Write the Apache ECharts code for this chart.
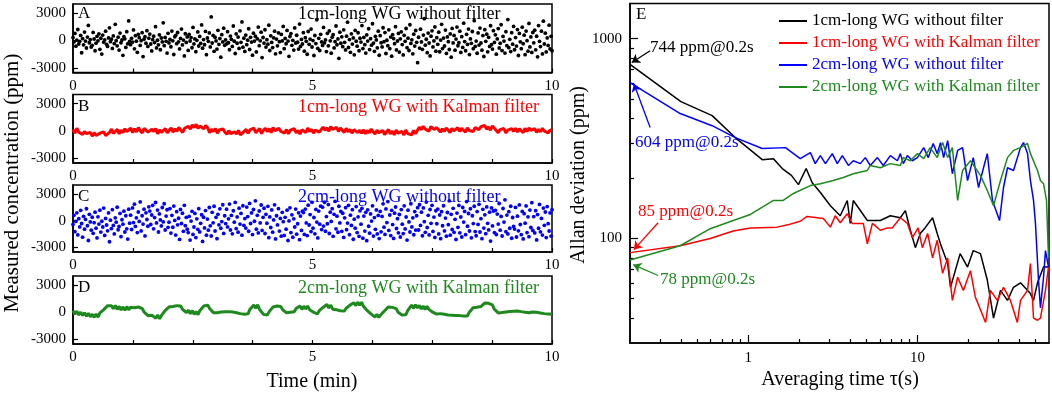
<!DOCTYPE html>
<html>
<head>
<meta charset="utf-8">
<script src="https://cdn.jsdelivr.net/npm/echarts@6/dist/echarts.min.js"></script>
<style>
html, body { margin: 0; padding: 0; background: #fff; }
#chart { width: 1052px; height: 394px; }
</style>
</head>
<body>
<div id="chart"></div>
<script>
// ---- panel A-D: measured concentration (ppm), uniformly sampled over 10 min
const conc1cmRaw = [
  320,-150,780,-620,40,1210,-380,-90,560,-1340,210,-470,930,-60,-820,380,1650,-240,110,-710,
  -530,890,170,-1120,-290,460,-30,720,-960,250,-1480,600,-180,80,1030,-410,-640,290,1390,-120,
  140,-860,510,-330,1780,-20,-580,370,-1050,820,-240,60,-1620,430,190,-750,970,-360,2150,-90,
  -450,240,-170,1160,-910,530,-70,-1290,680,310,-540,-20,860,-1760,150,420,-300,1080,-650,260,
  710,-380,-1140,90,480,-220,1520,-810,30,-470,620,-1010,280,-150,1940,-560,340,-90,-1370,790,
  -260,120,-680,1040,-30,-1530,410,570,-340,880,-140,-920,230,1260,-480,50,-1690,740,-210,390,
  -1080,660,-50,320,-790,1430,-370,180,-1220,20,940,-600,450,-310,1710,-840,110,-460,1000,-1550,
  280,-90,830,-700,2580,-270,560,-1180,360,-40,-930,1120,-410,210,-1820,640,-150,1350,-520,70,
  -360,970,-240,-1010,490,130,-640,1590,-80,-1420,720,-300,380,-860,1060,-200,2040,-730,260,-1190,
  600,-450,40,1290,-980,350,-170,-1600,810,-60,470,-1250,190,1470,-560,-30,920,-1870,330,-280,
  1180,-720,90,-400,1680,-1090,520,-210,-770,300,1020,-1460,160,-580,840,-120,-1320,670,-40,1540,
  -890,230,-350,1110,-60,-1730,440,760,-520,20,-1050,1380,-270,580,-190,-940,1800,-650,120,-380,
  860,-1170,310,-90,-1500,990,-420,160,1260,-710,-10,-1640,550,-330,2270,-860,240,-1090,680,-150,
  -540,1430,-260,70,-1210,790,-580,1050,-30,-1380,360,640,-810,-120,1590,-460,180,-1950,920,-300,
  410,-670,1170,-200,-1030,480,2010,-750,100,-1290,730,-390,290,-1560,1110,-80,-620,850,-1120,250,
  -170,1640,-880,340,-450,-1370,610,-60,1290,-990,200,-510,1840,-280,-1180,460,70,-800,1030,-1610,
  530,-240,-700,1400,-130,870,-1420,30,-560,1170,-890,380,-1710,640,210,-340,1520,-1030,-50,780,
  -1260,190,950,-440,-1580,570,-90,1320,-780,260,-1090,1730,-320,80,-1450,700,-610,1100,-200,-2420,
  360,-830,1240,-150,-960,600,2390,-510,140,-1330,820,-270,-1690,480,1060,-700,-40,1490,-1170,310,
  -420,910,-1230,50,1780,-880,270,-600,1150,-1410,390,-120,-980,720,-1820,1330,-260,560,-1060,160,
  1470,-570,-230,1020,-1300,420,-760,1900,-110,-1120,680,-430,1250,-1540,180,-310,990,-890,2170,-640,
  -60,-1390,830,-500,1360,-270,-1060,540,-1750,1190,-90,700,-1240,350,-650,1620,-450,-940,1080,-210,
  620,-1490,180,1310,-820,-300,1740,-1100,450,-60,-1370,970,-560,2290,-780,130,-1210,860,-400,1550,
  -1010,320,-610,1200,-1640,780,-140,-890,1460,-340,590,-1550,1040,-20,-1160,1870,-700,390,-1300,880,
  -250,1130,-1020,470,-1780,1640,-90,-660,1030,-1470,2120,-380,810,-1250,290,-540,1680,-920,460,-1120
];
const conc1cmKalman = [
  180,-240,310,-120,90,-380,-60,-290,-410,-150, -560,-180,-470,-620,-240,-380,-90,-510,-320,-150,
  220,-260,-40,190,-310,80,-180,250,-60,140, 330,-170,260,-90,380,10,-210,290,170,-120,
  -240,190,-60,280,-310,120,-150,40,260,-190, 60,350,-120,240,-40,390,110,-160,300,180,
  520,210,660,380,740,290,560,430,250,610, 340,-180,190,-60,280,-250,110,-90,230,-140,
  -360,40,-280,-470,-90,-320,60,-410,-200,-30, 190,-240,120,-90,310,-170,40,260,-280,90,
  310,-80,260,-170,370,40,-110,290,-30,180, -220,160,-300,110,-60,270,-190,50,-340,140,
  250,-160,320,-40,190,-230,110,290,-120,60, 430,90,350,-20,480,170,260,410,-40,330,
  220,-160,300,-80,180,-230,140,260,-150,70, -240,130,-310,60,-180,220,-90,-330,100,-200,
  -260,70,-380,-90,160,-300,-20,-420,120,-230, -350,-40,-430,110,-280,-130,-410,60,-300,-90,
  420,150,520,230,370,-10,480,290,160,400, 310,-120,240,-50,330,110,-170,280,20,-80,
  360,-40,290,120,-110,330,60,240,-70,380, 540,160,470,290,620,210,430,100,560,320,
  230,-180,150,-60,280,-210,90,-120,260,-30, 310,-100,240,30,-170,290,-40,330,80,-60,
  250,-150,180,-90,300,-20,140,-210,120,60
];
const conc2cmRaw = [
  -420,610,-1230,-80,880,-1590,230,-690,1160,-310,-1840,490,-950,150,1340,-560,-2210,720,-130,-1060,
  390,-1410,-220,960,-830,-1920,440,-370,1180,-1270,-60,-700,1420,-1640,260,-480,-1130,870,-2350,60,
  -880,1240,-520,-1480,330,-160,1510,-1010,-640,820,-1780,110,-380,1070,-1260,560,-910,-2050,1290,-270,
  620,-980,1430,-210,1850,-640,320,-1330,980,-80,2110,-1140,560,-370,1290,-1700,880,140,-620,1560,
  1080,-420,640,1720,-910,350,2040,-250,1190,-1260,760,90,-580,1480,-130,1900,-1040,520,1230,-740,
  -160,1360,-1380,610,-730,1640,40,-1610,1010,-460,280,-2090,1270,-310,840,-1190,1730,-550,370,-950,
  -1320,480,-2160,-40,1050,-1530,-700,820,-1880,210,-960,1350,-1250,-290,670,-2320,390,-810,1140,-1620,
  190,-1060,1480,-570,-1710,940,-230,1620,-1150,380,-2010,720,-460,1330,-840,-90,1790,-1420,560,-320,
  1290,-690,210,1860,-1040,590,-1470,1120,-160,2050,-880,430,-1280,1410,-370,820,-1620,1680,-510,240,
  -820,1530,460,-1180,1940,-310,870,-1550,1260,-60,2230,-940,610,-1360,1090,-240,1760,-1090,380,1400,
  -1430,720,-280,1610,-1900,430,-760,1210,-1280,90,1780,-2040,560,-470,1350,-1160,260,-1730,940,-110,
  -1640,380,-940,1180,-2210,-20,1450,-1320,660,-1850,210,-700,1310,-1500,-340,890,-2120,520,-1080,1060,
  920,-1530,1300,-240,-1660,1740,-480,690,-1210,2060,-830,360,-1470,1270,-150,-1920,1080,-390,1630,-990,
  1520,-600,2070,-1180,470,-340,1810,-1430,960,-80,1350,-1740,720,2160,-910,510,-1290,1620,-250,1040,
  -1190,840,-1870,330,1460,-1000,-260,1730,-1560,620,-520,1240,-2070,180,-830,1580,-1320,440,-1740,1110,
  -380,1390,-1950,520,-1160,940,-2230,1220,-620,-1390,760,-40,1670,-1720,350,-960,1210,-1480,590,-2000,
  1040,-1240,480,1890,-720,-1530,1320,-210,2140,-1090,640,-1660,1160,-430,-1980,850,1540,-870,230,-1350,
  700,-1820,1250,-380,-1440,1670,-920,420,-2160,1180,-130,-1260,1900,-690,330,-1570,1030,-1050,560,1460,
  -1040,1790,-520,960,-1680,1430,-110,-1300,2090,-760,610,-1590,1260,-290,1730,-1200,410,-1870,1120,-340,
  1300,-1480,640,-2010,1010,-560,1680,-1140,300,-1730,920,-440,2230,-1620,720,-980,1390,-1300,160,-2090,
  860,-740,1710,-1350,420,-1820,1480,-150,1040,-1560,2150,-620,810,-1150,1340,-1910,560,-320,1620,-1210,
  -1680,1020,-410,1840,-1260,230,-2010,1280,-820,660,-1450,1550,-290,-1030,960,-2280,1430,-580,1090,-1320,
  1160,-1540,750,-370,1930,-1060,480,-1710,1370,-150,2340,-1220,630,-1480,1010,-840,1620,-1960,360,-640,
  -930,1490,-1820,510,-1130,1770,-420,-1560,1040,-2040,790,-270,1660,-1330,440,-1790,1190,-760,2020,-1090,
  470,-1370,1130,-2150,690,-840,1820,-1240,260,-1600,1420,-510,980,-1880,1580,-330,-1150,870,-1720,1240
];
const conc2cmKalman = [
  180,-210,120,-300,10,-350,-60,-440,-120,-500, -220,-560,-190,-540,-60,-120,290,350,730,640,
  720,380,760,310,650,250,590,210,620,280, 560,450,490,510,580,430,410,10,-20,-380,
  -260,-320,-380,-660,-300,-720,-350,-290,200,240, 600,500,640,590,730,650,700,310,340,-20,
  230,-170,190,-240,70,-260,200,230,690,630, 790,410,410,-40,60,-50,30,20,130,50,
  180,70,150,20,50,-60,-20,-150,-80,-210, -110,-170,340,370,800,450,830,310,260,-230,
  -200,-310,70,120,590,580,690,610,630,270, 320,-50,80,0,70,50,420,360,690,320,
  670,360,700,270,360,10,80,-190,180,120, 530,490,850,470,800,340,400,270,310,160,
  240,130,440,410,790,680,1050,740,1120,770, 1110,650,630,180,190,-200,-160,-520,-230,-570,
  -270,-290,170,190,590,450,540,410,400,0, 50,-310,-180,-280,190,310,790,450,820,480,
  750,360,690,300,670,320,410,10,90,-200, -50,-150,-90,-220,-170,-290,-220,-320,-260,-350,
  -280,-370,-320,-420,-360,-410,0,40,490,450, 550,490,630,650,1010,930,990,850,810,340,
  370,-70,50,-20,70,40,170,90,200,120, 230,150,180,70,70,10,30,-50,80,30,
  90,10,0,-80,-40,-150,-70,-180,-110,-220
];
const timeLabels = [0, 5, 10];
const timeTicks = [0, 1.25, 2.5, 3.75, 5, 6.25, 7.5, 8.75, 10];
const concTicks = [-3000, 0, 3000];

// ---- panel E: Allan deviation (ppm) vs averaging time (s)
const tauBlack = [0.2,0.4,0.612,0.838,1.21,1.41,1.59,1.80,1.98,2.20,2.39,2.67,3.06,3.50,3.85,4.01,4.18,5.06,6.04,6.92,
  7.93,8.49,9.09,9.73,10.4,11.1,12.3,13.1,13.7,15.1,15.7,17.9,19.8,21.4,23.6,25.9,28.2,31.0,34.1,37.0,
  40.7,46.6,48.6,51.3,55.7,59.6];
const adevBlack = [744,484,412,320,248,251,224,207,186,224,190,170,146,130,155,119,155,123,123,130,
  127,138,110,90,106,113,127,106,94,75,57,84,72,87,84,62,40,55,49,57,
  60,53,49,60,72,72];
const tauRed = [0.2,0.396,0.596,0.815,1.03,1.48,1.77,2.03,2.23,2.78,3.06,3.27,3.50,3.85,4.12,4.48,4.79,5.06,5.42,6.04,
  6.64,7.11,7.93,8.73,9.34,10.1,10.7,11.5,12.3,13.1,14.1,15.1,16.1,17.3,18.7,20.6,22.0,23.6,25.3,27.0,
  29.7,32.3,35.5,39.0,40.7,44.8,46.6,48.6,51.3,53.4,57.2,59.6];
const adevRed = [85,92,100,109,113,114,118,122,129,126,114,130,120,133,119,119,119,94,119,110,
  113,113,127,119,101,113,90,106,80,98,67,80,49,64,55,69,51,44,38,55,
  49,57,49,38,49,55,75,40,39,40,55,72];
const tauBlue = [0.2,0.396,0.612,0.838,1.21,1.66,2.03,2.33,2.49,2.67,2.86,3.14,3.36,3.60,3.91,4.18,4.60,4.92,5.27,5.80,
  6.29,6.92,7.62,7.93,8.26,8.73,9.34,10.0,10.9,11.6,12.4,13.1,13.7,14.3,15.1,16.1,17.3,18.5,19.8,21.4,
  23.0,24.6,25.9,27.8,30.6,32.3,34.1,37.0,40.7,42.4,44.8,46.6,48.6,49.9,52.0,53.4,55.7,57.2,59.6];
const adevBlue = [603,422,367,320,282,285,251,269,237,260,237,266,237,260,232,245,237,254,232,254,
  232,260,245,266,237,260,245,254,285,254,299,266,302,254,309,211,276,285,195,254,
  180,226,266,155,123,180,226,219,285,302,266,195,155,119,62,45,64,87,72];
const tauGreen = [0.2,0.396,0.596,0.815,1.03,1.41,1.61,1.85,2.33,2.67,3.18,3.65,4.18,5.06,5.27,6.04,6.92,7.93,8.26,9.09,
  10.0,10.9,11.9,13.1,14.1,15.1,16.1,17.3,18.5,20.6,23.6,25.9,28.2,31.0,34.1,37.0,40.7,44.8,46.6,51.3,
  53.4,55.7,58.0,59.6];
const adevGreen = [78,92,112,123,132,155,155,168,184,188,195,202,211,219,232,226,237,232,254,245,
  266,251,285,254,302,254,285,155,219,245,207,174,146,195,254,276,285,299,266,219,
  195,188,155,80];
const tauLabels = [1, 10];
const tauMinor = [0.3,0.4,0.5,0.6,0.7,0.8,0.9,2,3,4,5,6,7,8,9,20,30,40,50];
const adevLabels = [100, 1000];
const adevMinor = [40,50,60,70,80,90,200,300,400,500,600,700,800,900];

const serif = '"Liberation Serif", "Times New Roman", serif';
const lg = Math.log10;
const chart = echarts.init(document.getElementById('chart'));

const panels = [
  { letter: 'A', text: '1cm-long WG without filter', color: '#000000', data: conc1cmRaw, kind: 'scatter', top: 4, height: 68.5, ty: 14 },
  { letter: 'B', text: '1cm-long WG with Kalman filter', color: '#ff0000', data: conc1cmKalman, kind: 'line', top: 94.5, height: 68.5, ty: 107 },
  { letter: 'C', text: '2cm-long WG without filter', color: '#0000ff', data: conc2cmRaw, kind: 'scatter', top: 185, height: 67, ty: 197 },
  { letter: 'D', text: '2cm-long WG with Kalman filter', color: '#1e8a1e', data: conc2cmKalman, kind: 'line', top: 276, height: 68, ty: 288 }
];

const frame = { show: true, borderColor: '#000', borderWidth: 1.5, backgroundColor: 'transparent' };
const axisLine = { show: true, onZero: false, lineStyle: { color: '#000', width: 1.5 } };
const tickStyle = { color: '#000', width: 1.2 };
const labelFont = { fontFamily: serif, fontSize: 15, color: '#000' };
const plain = v => String(v);

const grid = [], xAxis = [], yAxis = [], series = [], graphic = [];

panels.forEach((p, i) => {
  grid.push(Object.assign({ left: 73, top: p.top, width: 479, height: p.height }, frame));
  xAxis.push({
    type: 'value', gridIndex: i, min: 0, max: 10,
    axisLine,
    axisTick: { inside: true, length: 4, customValues: timeTicks, lineStyle: tickStyle },
    axisLabel: Object.assign({ customValues: timeLabels, margin: 6, formatter: plain }, labelFont),
    splitLine: { show: false }
  });
  yAxis.push({
    type: 'value', gridIndex: i, min: -3500, max: 4000,
    axisLine,
    axisTick: { inside: true, length: 5, customValues: concTicks, lineStyle: tickStyle },
    axisLabel: Object.assign({ customValues: concTicks, margin: 7, formatter: plain }, labelFont),
    splitLine: { show: false }
  });
  const n = p.data.length;
  const pts = p.data.map((v, k) => [k * 10 / (n - 1), v]);
  if (p.kind === 'scatter') {
    series.push({ name: 'panel' + p.letter, type: 'scatter', xAxisIndex: i, yAxisIndex: i, data: pts,
      symbolSize: 3.8, itemStyle: { color: p.color, opacity: 1 }, silent: true });
  } else {
    series.push({ name: 'panel' + p.letter, type: 'line', xAxisIndex: i, yAxisIndex: i, data: pts,
      showSymbol: false, lineStyle: { color: p.color, width: 3 }, itemStyle: { color: p.color }, silent: true });
  }
  graphic.push({ type: 'text', x: 78, y: p.ty, style: { text: p.letter, font: '17px ' + serif, fill: '#000', textVerticalAlign: 'middle' } });
  graphic.push({ type: 'text', x: 298, y: p.ty, style: { text: p.text, font: '18px ' + serif, fill: p.color, textVerticalAlign: 'middle' } });
});

// panel E (log-log, drawn on log10 value axes)
const E = 4;
const tauMin = lg(0.2), tauMax = lg(60), adevMin = lg(30), adevMax = lg(1500);
const pow10 = v => String(Math.round(Math.pow(10, v)));
grid.push(Object.assign({ left: 630, top: 3.5, width: 419, height: 339.5 }, frame));
xAxis.push({
  type: 'value', gridIndex: E, min: tauMin, max: tauMax, position: 'bottom',
  axisLine,
  axisTick: { inside: true, length: 8, customValues: tauLabels.map(lg), lineStyle: tickStyle },
  axisLabel: Object.assign({ customValues: tauLabels.map(lg), margin: 8, formatter: pow10 }, labelFont),
  splitLine: { show: false }
});
xAxis.push({
  type: 'value', gridIndex: E, min: tauMin, max: tauMax, position: 'bottom',
  axisLine: { show: false, onZero: false },
  axisTick: { inside: true, length: 4, customValues: tauMinor.map(lg), lineStyle: tickStyle },
  axisLabel: { show: false }, splitLine: { show: false }
});
yAxis.push({
  type: 'value', gridIndex: E, min: adevMin, max: adevMax, position: 'left',
  axisLine,
  axisTick: { inside: true, length: 8, customValues: adevLabels.map(lg), lineStyle: tickStyle },
  axisLabel: Object.assign({ customValues: adevLabels.map(lg), margin: 8, formatter: pow10 }, labelFont),
  splitLine: { show: false }
});
yAxis.push({
  type: 'value', gridIndex: E, min: adevMin, max: adevMax, position: 'left',
  axisLine: { show: false, onZero: false },
  axisTick: { inside: true, length: 4, customValues: adevMinor.map(lg), lineStyle: tickStyle },
  axisLabel: { show: false }, splitLine: { show: false }
});

function arrow(color, from, to) {
  return {
    silent: true, symbol: ['none', 'arrow'], symbolSize: 8,
    lineStyle: { color: color, width: 1.3, type: 'solid' },
    label: { show: false }, emphasis: { disabled: true },
    data: [[{ coord: [lg(from[0]), lg(from[1])] }, { coord: [lg(to[0]), lg(to[1])] }]]
  };
}

const allan = [
  { name: '1cm-long WG without filter', color: '#000000', tau: tauBlack, adev: adevBlack, arrow: [[0.263, 871], [0.205, 760]] },
  { name: '1cm-long WG with Kalman filter', color: '#ff0000', tau: tauRed, adev: adevRed, arrow: [[0.293, 120], [0.211, 88]] },
  { name: '2cm-long WG without filter', color: '#0000ff', tau: tauBlue, adev: adevBlue, arrow: [[0.263, 359], [0.211, 595]] },
  { name: '2cm-long WG with Kalman filter', color: '#1e8a1e', tau: tauGreen, adev: adevGreen, arrow: [[0.293, 65.3], [0.209, 74]] }
];
allan.forEach(a => {
  series.push({
    name: a.name, type: 'line', xAxisIndex: E, yAxisIndex: E,
    data: a.tau.map((t, k) => [lg(t), lg(a.adev[k])]),
    showSymbol: false, lineStyle: { color: a.color, width: 1.5 }, itemStyle: { color: a.color },
    markLine: arrow(a.color, a.arrow[0], a.arrow[1])
  });
});

const notes = [
  { text: '744 ppm@0.2s', color: '#000000', x: 650, y: 48 },
  { text: '604 ppm@0.2s', color: '#0000ff', x: 635, y: 143 },
  { text: '85 ppm@0.2s', color: '#ff0000', x: 638, y: 212 },
  { text: '78 ppm@0.2s', color: '#1e8a1e', x: 660, y: 280 }
];
notes.forEach(n => graphic.push({ type: 'text', x: n.x, y: n.y,
  style: { text: n.text, font: '17px ' + serif, fill: n.color, textVerticalAlign: 'middle' } }));

graphic.push({ type: 'text', x: 636, y: 15, style: { text: 'E', font: '17px ' + serif, fill: '#000', textVerticalAlign: 'middle' } });
graphic.push({ type: 'text', x: 12, y: 183, rotation: Math.PI / 2,
  style: { text: 'Measured concentration (ppm)', font: '21px ' + serif, fill: '#000', textAlign: 'center', textVerticalAlign: 'middle' } });
graphic.push({ type: 'text', x: 312, y: 382,
  style: { text: 'Time (min)', font: '20px ' + serif, fill: '#000', textAlign: 'center', textVerticalAlign: 'middle' } });
graphic.push({ type: 'text', x: 579, y: 175, rotation: Math.PI / 2,
  style: { text: 'Allan deviation (ppm)', font: '20px ' + serif, fill: '#000', textAlign: 'center', textVerticalAlign: 'middle' } });
graphic.push({ type: 'text', x: 840, y: 380,
  style: { text: 'Averaging time τ(s)', font: '20px ' + serif, fill: '#000', textAlign: 'center', textVerticalAlign: 'middle' } });

chart.setOption({
  animation: false,
  backgroundColor: '#fff',
  grid, xAxis, yAxis, series, graphic,
  legend: {
    orient: 'vertical', left: 774, top: 7, icon: 'rect', itemWidth: 28, itemHeight: 2, itemGap: 4,
    textStyle: { fontFamily: serif, fontSize: 17, lineHeight: 18 },
    data: allan.map(a => ({ name: a.name, textStyle: { color: a.color } }))
  }
});
</script>
</body>
</html>
